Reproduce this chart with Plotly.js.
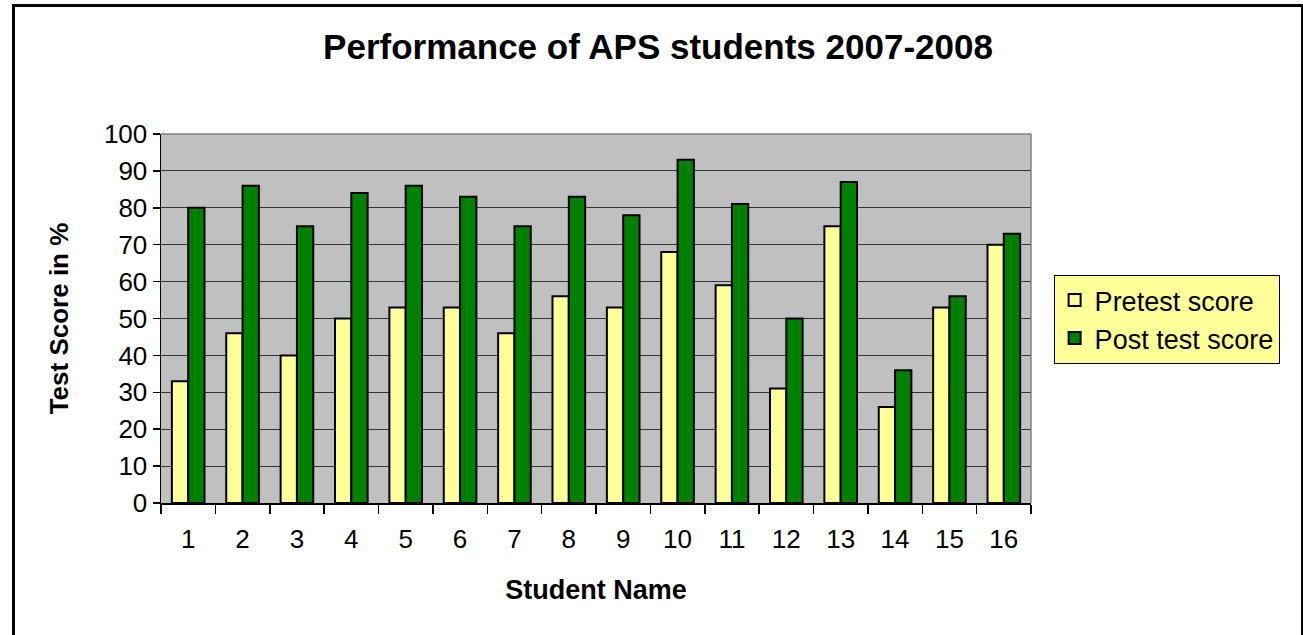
<!DOCTYPE html>
<html>
<head>
<meta charset="utf-8">
<script src="https://cdn.plot.ly/plotly-3.0.1.min.js"></script>
<style>
html,body{margin:0;padding:0;background:#fff;overflow:hidden;}
#chart{width:1303px;height:635px;position:absolute;left:0;top:0;}
#frame{position:absolute;left:12px;top:4px;width:1286px;height:660px;border:3px solid #000;pointer-events:none;}
</style>
</head>
<body>
<div id="chart"></div>
<div id="frame"></div>
<script>
const students = ["1","2","3","4","5","6","7","8","9","10","11","12","13","14","15","16"];
const pretest = [33,46,40,50,53,53,46,56,53,68,59,31,75,26,53,70];
const posttest = [80,86,75,84,86,83,75,83,78,93,81,50,87,36,56,73];
const yTicks = [0,10,20,30,40,50,60,70,80,90,100];

const font = "Arial, 'Liberation Sans', sans-serif";

const traces = [
  {type:"bar", name:"Pretest score", x:students, y:pretest,
   marker:{color:"#FFFF99", line:{color:"#000", width:2}}},
  {type:"bar", name:"Post test score", x:students, y:posttest,
   marker:{color:"#008000", line:{color:"#000", width:2}}}
];

const layout = {
  width:1303, height:635,
  margin:{l:161, r:272, t:134, b:132, pad:0},
  paper_bgcolor:"#fff", plot_bgcolor:"#C0C0C0",
  barmode:"group", bargap:0.4, bargroupgap:0,
  title:{text:"Performance of APS students 2007-2008", font:{family:font, size:35, color:"#000", weight:"bold"},
         x:0.505, xref:"container", y:0.926, yref:"container", yanchor:"middle"},
  font:{family:font, color:"#000"},
  xaxis:{type:"category", tickson:"boundaries", ticks:"outside", ticklen:9, tickcolor:"#000", tickwidth:1.5,
         showline:true, linecolor:"#000", linewidth:1.5, showgrid:false, ticklabelstandoff:12,
         tickfont:{size:26, family:font}, fixedrange:true,
         title:{text:"Student Name", font:{size:27, family:font, weight:"bold"}, standoff:27}},
  yaxis:{range:[0,100], tickvals:yTicks, ticktext:yTicks.map(String), ticks:"outside", ticklen:7,
         tickcolor:"#000", tickwidth:1.5, showline:true, linecolor:"#000", linewidth:1.5,
         gridcolor:"#333", gridwidth:1, zeroline:false,
         tickfont:{size:26, family:font}, fixedrange:true,
         title:{text:"Test Score in %", font:{size:26, family:font, weight:"bold"}, standoff:28}},
  legend:{x:1.026, xanchor:"left", y:0.618, yanchor:"top", bgcolor:"#FFFF99", bordercolor:"#000", borderwidth:1,
          font:{size:27, family:font}, itemwidth:30, tracegroupgap:4},
  shapes:[
    {type:"line", xref:"paper", yref:"paper", x0:0, x1:1, y0:1, y1:1, line:{color:"#808080", width:1.5}},
    {type:"line", xref:"paper", yref:"paper", x0:1, x1:1, y0:0, y1:1, line:{color:"#808080", width:1.5}}
  ],
  showlegend:true
};

Plotly.newPlot("chart", traces, layout, {displayModeBar:false, staticPlot:true});
</script>
</body>
</html>
